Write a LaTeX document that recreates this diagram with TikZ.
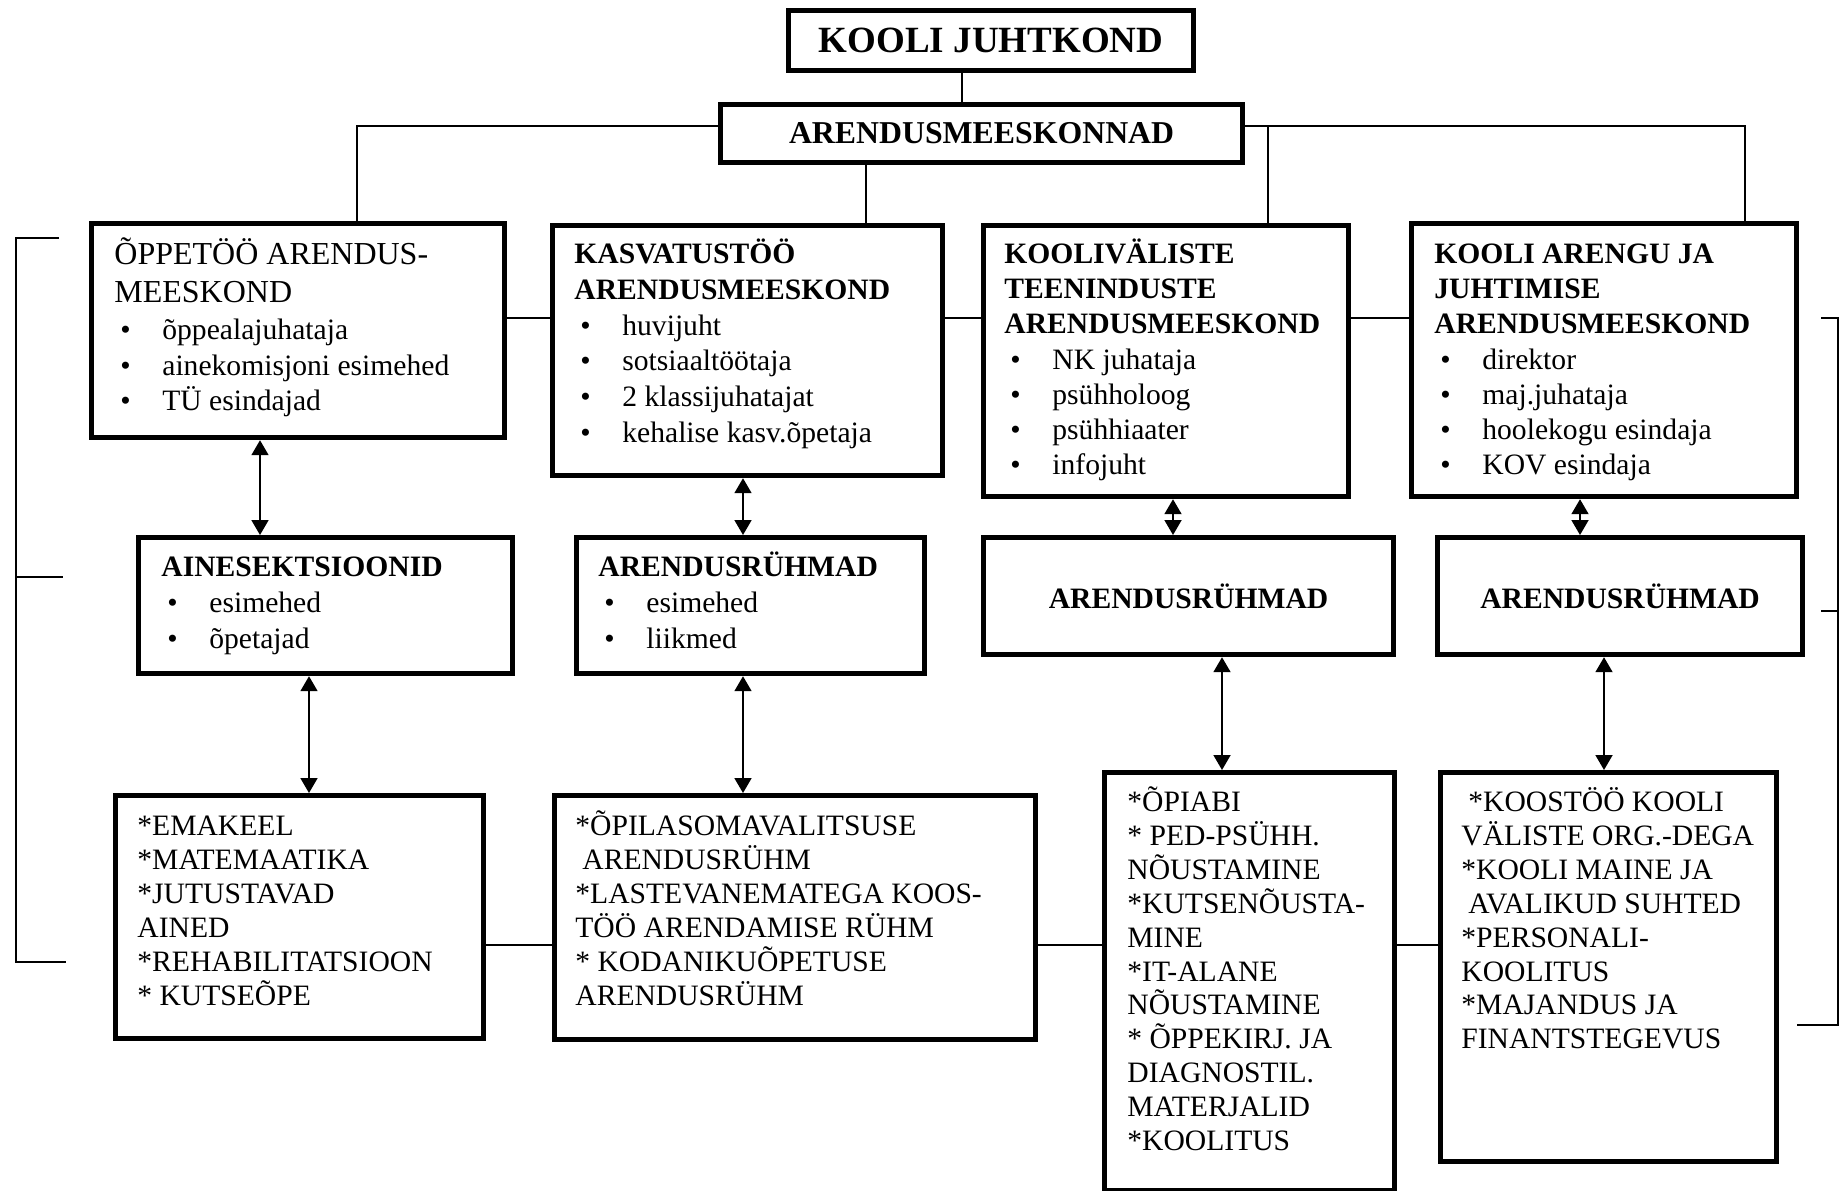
\documentclass[tikz,border=0pt]{standalone}
\usepackage{fontspec}
\setmainfont{Liberation Serif}
\usetikzlibrary{arrows.meta}
\newcommand{\bul}[1]{\hspace*{3pt}\makebox[21pt][l]{\textbullet}#1}
\newcommand{\fst}{\rule{0pt}{0.95em}}
\begin{document}
\begin{tikzpicture}[x=0.5pt,y=-0.5pt,
  box/.style={draw, line width=2.6pt, inner sep=0pt, anchor=north west},
  txt/.style={anchor=north west, inner sep=0pt, align=left},
  conn/.style={line width=0.8pt},
  dbl/.style={line width=0.9pt, {Triangle[length=7.5pt,width=8.5pt]}-{Triangle[length=7.5pt,width=8.5pt]}},
  rowa/.style={font=\fontsize{14.8}{17.9}\selectfont},
  rowb/.style={font=\fontsize{14.8}{17.6}\selectfont},
  rowc/.style={font=\fontsize{14.8}{17}\selectfont},
  rowd/.style={font=\fontsize{14.8}{16.95}\selectfont},
  boldlbl/.style={font=\fontsize{14.8}{17.9}\selectfont\bfseries}
]
\useasboundingbox (0,0) rectangle (1840,1190);

% top boxes
\node[box, minimum width=202.5pt, minimum height=30pt, font=\fontsize{18.5}{20}\selectfont\bfseries] (kj) at (786,8) {KOOLI JUHTKOND};
\node[box, minimum width=261pt, minimum height=29pt, font=\fontsize{15.9}{18}\selectfont\bfseries] (am) at (718,102) {ARENDUSMEESKONNAD};

% row 1 boxes
\node[box, minimum width=206.5pt, minimum height=107pt] (b1) at (89,221) {};
\node[box, minimum width=195pt, minimum height=125pt] (b2) at (550,223) {};
\node[box, minimum width=182.5pt, minimum height=135.5pt] (b3) at (981,223) {};
\node[box, minimum width=192.5pt, minimum height=136.5pt] (b4) at (1409,221) {};

\node[txt, font=\fontsize{16}{19}\selectfont] (b1h) at (114,233.6) {\fst ÕPPETÖÖ ARENDUS-\\MEESKOND};
\node[txt, font=\fontsize{14.8}{17.75}\selectfont] (b1t) at (114,311) {\fst\bul{õppealajuhataja}\\\bul{ainekomisjoni esimehed}\\\bul{TÜ esindajad}};
\node[txt, rowa] (b2t) at (574,235) {\fst\textbf{KASVATUSTÖÖ}\\\textbf{ARENDUSMEESKOND}\\\bul{huvijuht}\\\bul{sotsiaaltöötaja}\\\bul{2 klassijuhatajat}\\\bul{kehalise kasv.õpetaja}};
\node[txt, rowb] (b3t) at (1004,235) {\fst\textbf{KOOLIVÄLISTE}\\\textbf{TEENINDUSTE}\\\textbf{ARENDUSMEESKOND}\\\bul{NK juhataja}\\\bul{psühholoog}\\\bul{psühhiaater}\\\bul{infojuht}};
\node[txt, rowb] (b4t) at (1434,235) {\fst\textbf{KOOLI ARENGU JA}\\\textbf{JUHTIMISE}\\\textbf{ARENDUSMEESKOND}\\\bul{direktor}\\\bul{maj.juhataja}\\\bul{hoolekogu esindaja}\\\bul{KOV esindaja}};

% row 2 boxes
\node[box, minimum width=187pt, minimum height=68pt] (r2a) at (136,535) {};
\node[box, minimum width=174pt, minimum height=68pt] (r2b) at (574,535) {};
\node[box, minimum width=205pt, minimum height=58.5pt, boldlbl] (r2c) at (981,535) {ARENDUSRÜHMAD};
\node[box, minimum width=182.5pt, minimum height=58.5pt, boldlbl] (r2d) at (1435,535) {ARENDUSRÜHMAD};

\node[txt, rowa] (r2at) at (161,548) {\fst\textbf{AINESEKTSIOONID}\\\bul{esimehed}\\\bul{õpetajad}};
\node[txt, rowa] (r2bt) at (598,548) {\fst\textbf{ARENDUSRÜHMAD}\\\bul{esimehed}\\\bul{liikmed}};

% row 3 boxes
\node[box, minimum width=184pt, minimum height=121.5pt] (r3a) at (113,793) {};
\node[box, minimum width=240.5pt, minimum height=122pt] (r3b) at (552,793) {};
\node[box, minimum width=145pt, minimum height=209pt] (r3c) at (1102,770) {};
\node[box, minimum width=168pt, minimum height=194.5pt] (r3d) at (1438,770) {};

\node[txt, rowc] (r3at) at (137,807) {\fst *EMAKEEL\\*MATEMAATIKA\\*JUTUSTAVAD\\AINED\\*REHABILITATSIOON\\* KUTSEÕPE};
\node[txt, rowc] (r3bt) at (575,807) {\fst *ÕPILASOMAVALITSUSE\\\hspace*{3.5pt}ARENDUSRÜHM\\*LASTEVANEMATEGA KOOS-\\TÖÖ ARENDAMISE RÜHM\\* KODANIKUÕPETUSE\\ARENDUSRÜHM};
\node[txt, rowd] (r3ct) at (1127,783) {\fst *ÕPIABI\\* PED-PSÜHH.\\NÕUSTAMINE\\*KUTSENÕUSTA-\\MINE\\*IT-ALANE\\NÕUSTAMINE\\* ÕPPEKIRJ. JA\\DIAGNOSTIL.\\MATERJALID\\*KOOLITUS};
\node[txt, rowd] (r3dt) at (1461,783) {\fst\hspace*{3.5pt}*KOOSTÖÖ KOOLI\\VÄLISTE ORG.-DEGA\\*KOOLI MAINE JA\\\hspace*{3.5pt}AVALIKUD SUHTED\\*PERSONALI-\\KOOLITUS\\*MAJANDUS JA\\FINANTSTEGEVUS};

% helper coordinates
\coordinate (vkj) at (962,0);
\coordinate (hy) at (0,126);
\coordinate (v1) at (357,0);
\coordinate (v2) at (866,0);
\coordinate (v3) at (1268,0);
\coordinate (v4) at (1745,0);
\coordinate (h1) at (0,318);
\coordinate (h3) at (0,945);
\coordinate (xa1) at (260,0);
\coordinate (xa2) at (743,0);
\coordinate (xa3) at (1173,0);
\coordinate (xa4) at (1580,0);
\coordinate (xb1) at (309,0);
\coordinate (xb2) at (743,0);
\coordinate (xb3) at (1222,0);
\coordinate (xb4) at (1604,0);

% top connectors
\draw[conn] (kj.south -| vkj) -- (am.north -| vkj);
\draw[conn] (am.west |- hy) -| (b1.north -| v1);
\draw[conn] (am.south -| v2) -- (b2.north -| v2);
\draw[conn] (am.east |- hy) -| (b4.north -| v4);
\draw[conn] (v3 |- hy) -- (b3.north -| v3);

% row 1 horizontal links
\draw[conn] (b1.east |- h1) -- (b2.west |- h1);
\draw[conn] (b2.east |- h1) -- (b3.west |- h1);
\draw[conn] (b3.east |- h1) -- (b4.west |- h1);

% row 3 horizontal links
\draw[conn] (r3a.east |- h3) -- (r3b.west |- h3);
\draw[conn] (r3b.east |- h3) -- (r3c.west |- h3);
\draw[conn] (r3c.east |- h3) -- (r3d.west |- h3);

% double arrows
\draw[dbl] (b1.south -| xa1) -- (r2a.north -| xa1);
\draw[dbl] (b2.south -| xa2) -- (r2b.north -| xa2);
\draw[dbl] (b3.south -| xa3) -- (r2c.north -| xa3);
\draw[dbl] (b4.south -| xa4) -- (r2d.north -| xa4);
\draw[dbl] (r2a.south -| xb1) -- (r3a.north -| xb1);
\draw[dbl] (r2b.south -| xb2) -- (r3b.north -| xb2);
\draw[dbl] (r2c.south -| xb3) -- (r3c.north -| xb3);
\draw[dbl] (r2d.south -| xb4) -- (r3d.north -| xb4);

% left bracket
\coordinate (la) at (59,238);
\coordinate (lb) at (16,238);
\coordinate (lc) at (16,962);
\coordinate (ld) at (66,962);
\coordinate (lm1) at (16,577);
\coordinate (lm2) at (63,577);
\draw[conn] (la) -- (lb) -- (lc) -- (ld);
\draw[conn] (lm1) -- (lm2);

% right bracket
\coordinate (ra) at (1821,318);
\coordinate (rb) at (1838,318);
\coordinate (rc) at (1838,1025);
\coordinate (rd) at (1797,1025);
\coordinate (rm1) at (1821,611);
\coordinate (rm2) at (1838,611);
\draw[conn] (ra) -- (rb) -- (rc) -- (rd);
\draw[conn] (rm1) -- (rm2);
\end{tikzpicture}
\end{document}
